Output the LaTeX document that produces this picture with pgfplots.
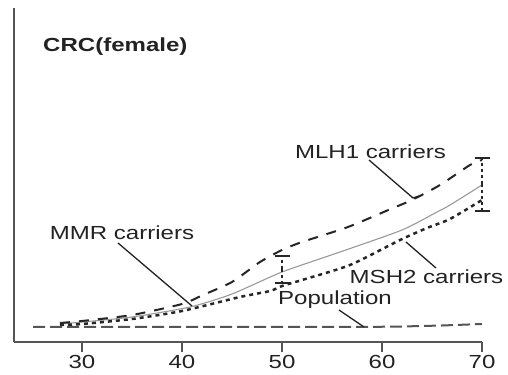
\documentclass[border=0pt]{standalone}
\usepackage{fontspec}
\usepackage{pgfplots}
\pgfplotsset{compat=1.18}
\newfontfamily\lab[FakeStretch=1.27]{Liberation Sans}
\definecolor{axgray}{HTML}{555555}
\definecolor{txt}{HTML}{222222}
\begin{document}
\begin{tikzpicture}
\begin{axis}[
  scale only axis, width=468bp, height=334bp,
  xmin=23.2, xmax=70, ymin=0, ymax=334,
  axis x line*=bottom, axis y line*=left,
  axis line style={-, line width=2bp, axgray},
  ytick=\empty, xtick={30,40,50,60,70},
  tick align=outside, major tick length=10bp,
  tick style={line width=2bp, axgray},
  xticklabel style={font=\fontsize{19}{19}\lab, text=txt, inner sep=1bp, yshift=-2bp},
  /pgf/number format/assume math mode=true,
  clip=false,
]
% Population
\addplot[line width=2bp, axgray, dash pattern=on 12bp off 5bp] coordinates {
(25.1,15) (30,15) (40,15) (50,15) (58,15) (62,15.5) (66,16.5) (70,18)};
% MMR carriers (solid)
\addplot[smooth, tension=0.4, line width=1.1bp, gray!80] coordinates {
(27.8,18) (30,20) (35,25) (40.8,35) (45,48) (50,70) (55.8,90) (62,112) (65.5,130) (66.8,137) (70,157)};
% MSH2 carriers (dotted)
\addplot[smooth, tension=0.4, line width=2.5bp, black!85, dash pattern=on 4bp off 4bp] coordinates {
(27.8,17) (30,18) (35,23) (40,31) (45.8,45) (48.8,51) (50,56) (52,62) (56.8,77) (61.8,102) (64.5,114) (66.8,123) (70,142)};
% MLH1 carriers (dashed)
\addplot[smooth, tension=0.4, line width=2bp, black!85, dash pattern=on 10bp off 9bp] coordinates {
(27.8,19) (30,21) (35,27) (40,38) (42.1,47) (45,60) (47.8,80) (50,92) (52,100) (56.6,115) (61.1,134) (63,142) (65.8,157) (68.8,177) (70,182)};
% confidence bars
\addplot[draw=none, mark=none,
  error bars/.cd, y dir=both, y explicit,
  error bar style={line width=2bp, black!85, dash pattern=on 3bp off 3bp},
  error mark options={line width=1.5bp, black!85, solid, mark size=7.5bp, rotate=90}]
  coordinates {(50,72.5) +- (0,13.5) (70,157.5) +- (0,26.5)};
% leaders
\draw[line width=1.3bp, txt] (axis cs:33.6,99) -- (axis cs:41.0,36);
\draw[line width=1.3bp, txt] (axis cs:58.7,182) -- (axis cs:63.1,144) -- (axis cs:63.7,146);
\draw[line width=1.3bp, txt] (axis cs:65.4,74) -- (axis cs:62.4,100);
\draw[line width=1.3bp, txt] (axis cs:55.7,32) -- (axis cs:58.2,15);
% labels
\node[anchor=west, inner sep=0, text=txt, font=\fontsize{19}{19}\lab\bfseries] at (axis cs:26.1,295) {CRC(female)};
\node[inner sep=0, text=txt, font=\fontsize{19}{19}\lab] at (axis cs:58.85,190) {MLH1 carriers};
\node[inner sep=0, text=txt, font=\fontsize{19}{19}\lab] at (axis cs:34.0,109) {MMR carriers};
\node[inner sep=0, text=txt, font=\fontsize{19}{19}\lab] at (axis cs:64.45,65) {MSH2 carriers};
\node[inner sep=0, text=txt, font=\fontsize{19}{19}\lab] at (axis cs:55.3,42) {Population};
\coordinate (bl) at (axis cs:21.8,-33);
\coordinate (tr) at (axis cs:72.6,342);
\end{axis}
\pgfresetboundingbox
\path (bl) rectangle (tr);
\end{tikzpicture}
\end{document}
